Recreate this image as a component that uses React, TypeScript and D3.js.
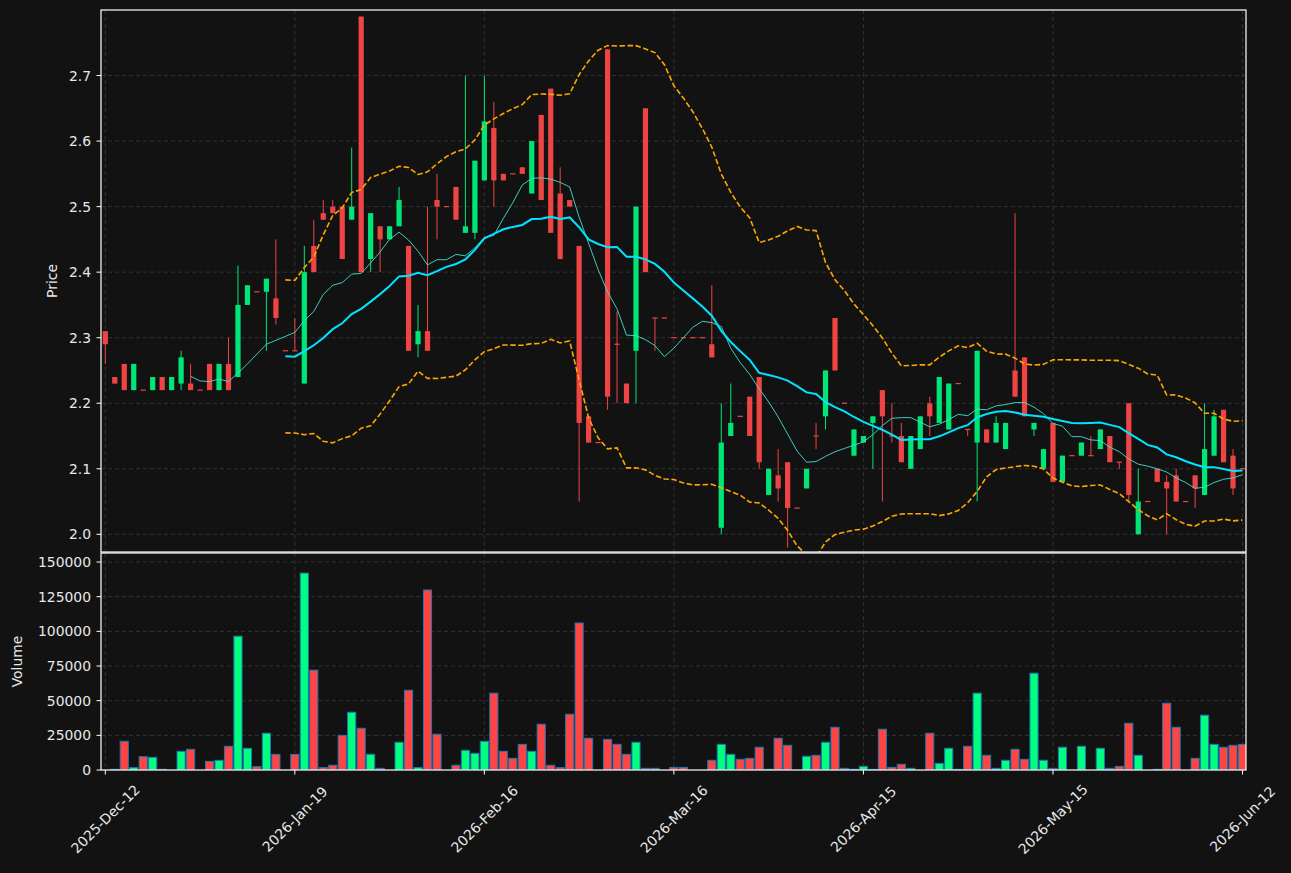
import React, { useEffect } from 'react';
import * as d3 from 'd3';

// canvas
const W = 1291;
const H = 873;

// x ticks (bar index -> label)
const tickIdx = [0, 20, 40, 60, 80, 100, 120];
const tickLabels = ['2025-Dec-12', '2026-Jan-19', '2026-Feb-16', '2026-Mar-16', '2026-Apr-15', '2026-May-15', '2026-Jun-12'];
const priceTicks = [2.0, 2.1, 2.2, 2.3, 2.4, 2.5, 2.6, 2.7];
const volTicks = [0, 25000, 50000, 75000, 100000, 125000, 150000];

// OHLC, one entry per trading bar
const opens = [
  2.31, 2.24, 2.26, 2.22, 2.22, 2.22, 2.24, 2.22, 2.23, 2.23,
  2.22, 2.26, 2.22, 2.26, 2.24, 2.35, 2.37, 2.37, 2.36, 2.28,
  2.28, 2.23, 2.44, 2.49, 2.50, 2.50, 2.48, 2.79, 2.42, 2.47,
  2.45, 2.47, 2.44, 2.29, 2.31, 2.51, 2.50, 2.53, 2.46, 2.46,
  2.54, 2.62, 2.55, 2.55, 2.56, 2.52, 2.64, 2.68, 2.52, 2.51,
  2.44, 2.18, 2.14, 2.74, 2.29, 2.23, 2.28, 2.65, 2.33, 2.33,
  2.30, 2.30, 2.30, 2.30, 2.29, 2.01, 2.15, 2.18, 2.21, 2.24,
  2.06, 2.09, 2.11, 2.04, 2.07, 2.15, 2.18, 2.33, 2.20, 2.12,
  2.14, 2.17, 2.22, 2.15, 2.15, 2.10, 2.13, 2.20, 2.17, 2.16,
  2.23, 2.16, 2.14, 2.16, 2.14, 2.13, 2.25, 2.27, 2.16, 2.10,
  2.17, 2.08, 2.12, 2.12, 2.12, 2.13, 2.15, 2.11, 2.20, 2.00,
  2.05, 2.10, 2.08, 2.09, 2.05, 2.09, 2.06, 2.12, 2.19, 2.12,
  2.10,
];
const highs = [
  2.31, 2.24, 2.26, 2.26, 2.22, 2.24, 2.24, 2.24, 2.28, 2.26,
  2.22, 2.26, 2.26, 2.30, 2.41, 2.38, 2.37, 2.39, 2.45, 2.28,
  2.33, 2.44, 2.48, 2.51, 2.51, 2.50, 2.59, 2.79, 2.49, 2.47,
  2.47, 2.53, 2.44, 2.35, 2.50, 2.55, 2.50, 2.53, 2.70, 2.57,
  2.70, 2.66, 2.55, 2.55, 2.56, 2.60, 2.64, 2.68, 2.56, 2.51,
  2.44, 2.18, 2.14, 2.74, 2.34, 2.23, 2.50, 2.65, 2.33, 2.33,
  2.30, 2.30, 2.30, 2.30, 2.38, 2.20, 2.23, 2.18, 2.21, 2.24,
  2.10, 2.13, 2.11, 2.04, 2.10, 2.17, 2.25, 2.33, 2.20, 2.16,
  2.15, 2.18, 2.22, 2.20, 2.17, 2.15, 2.18, 2.21, 2.24, 2.23,
  2.23, 2.16, 2.28, 2.16, 2.18, 2.17, 2.49, 2.27, 2.17, 2.13,
  2.17, 2.12, 2.12, 2.14, 2.15, 2.16, 2.15, 2.11, 2.20, 2.10,
  2.05, 2.10, 2.09, 2.10, 2.05, 2.09, 2.20, 2.19, 2.19, 2.13,
  2.10,
];
const lows = [
  2.26, 2.23, 2.22, 2.22, 2.22, 2.22, 2.22, 2.22, 2.22, 2.22,
  2.22, 2.22, 2.22, 2.22, 2.24, 2.35, 2.37, 2.28, 2.32, 2.28,
  2.28, 2.23, 2.40, 2.48, 2.49, 2.42, 2.48, 2.40, 2.40, 2.40,
  2.45, 2.47, 2.28, 2.27, 2.28, 2.45, 2.50, 2.48, 2.46, 2.45,
  2.54, 2.50, 2.54, 2.55, 2.55, 2.52, 2.51, 2.46, 2.42, 2.50,
  2.05, 2.14, 2.14, 2.19, 2.20, 2.20, 2.20, 2.40, 2.28, 2.33,
  2.30, 2.30, 2.30, 2.30, 2.27, 2.00, 2.15, 2.18, 2.15, 2.10,
  2.06, 2.05, 1.98, 2.04, 2.07, 2.13, 2.16, 2.25, 2.20, 2.12,
  2.14, 2.10, 2.05, 2.14, 2.11, 2.10, 2.13, 2.15, 2.17, 2.16,
  2.23, 2.15, 2.05, 2.14, 2.14, 2.13, 2.21, 2.18, 2.15, 2.10,
  2.08, 2.08, 2.12, 2.12, 2.12, 2.13, 2.11, 2.10, 2.05, 2.00,
  2.05, 2.08, 2.00, 2.05, 2.05, 2.04, 2.06, 2.12, 2.11, 2.06,
  2.10,
];
const closes = [
  2.29, 2.23, 2.22, 2.26, 2.22, 2.24, 2.22, 2.24, 2.27, 2.22,
  2.22, 2.22, 2.26, 2.22, 2.35, 2.38, 2.37, 2.39, 2.33, 2.28,
  2.28, 2.40, 2.40, 2.48, 2.49, 2.42, 2.50, 2.40, 2.49, 2.45,
  2.47, 2.51, 2.28, 2.31, 2.28, 2.50, 2.50, 2.48, 2.47, 2.57,
  2.63, 2.54, 2.54, 2.55, 2.55, 2.60, 2.51, 2.46, 2.42, 2.50,
  2.17, 2.14, 2.14, 2.21, 2.29, 2.20, 2.50, 2.40, 2.33, 2.33,
  2.30, 2.30, 2.30, 2.30, 2.27, 2.14, 2.17, 2.18, 2.15, 2.11,
  2.10, 2.07, 2.04, 2.04, 2.10, 2.15, 2.25, 2.25, 2.20, 2.16,
  2.15, 2.18, 2.18, 2.15, 2.11, 2.15, 2.18, 2.18, 2.24, 2.23,
  2.23, 2.16, 2.28, 2.14, 2.17, 2.17, 2.21, 2.18, 2.17, 2.13,
  2.08, 2.12, 2.12, 2.14, 2.12, 2.16, 2.11, 2.11, 2.06, 2.05,
  2.05, 2.08, 2.07, 2.05, 2.05, 2.07, 2.13, 2.18, 2.11, 2.07,
  2.10,
];
const volumes = [
  0, 500, 20700, 1700, 9600, 9150, 500, 0, 13500, 14900,
  0, 6260, 6980, 17100, 96500, 15650, 2400, 26500, 11300, 0,
  11300, 142000, 72000, 1700, 3400, 25000, 41650, 30100, 11300, 1200,
  0, 20000, 57500, 1700, 129800, 25800, 0, 3400, 14200, 12000,
  20700, 55400, 13500, 8400, 18500, 13500, 33000, 3400, 1700, 40200,
  106000, 22900, 0, 22100, 18500, 11300, 20000, 1200, 1200, 0,
  1900, 1900, 0, 0, 7000, 18500, 11300, 7700, 8400, 16400,
  500, 22900, 17800, 0, 9900, 10600, 20000, 30800, 1200, 500,
  2600, 500, 29400, 1900, 4100, 1200, 0, 26500, 4800, 15650,
  500, 17100, 55400, 10600, 1200, 7000, 14900, 7700, 69800, 7000,
  1200, 16400, 0, 17100, 0, 15650, 1200, 2600, 33700, 10600,
  0, 500, 48150, 30800, 0, 8400, 39500, 18500, 16400, 17800,
  18500,
];

// layout
const L = 101;
const R = 1246;
const P_TOP = 10;
const P_BOT = 552;
const V_TOP = 553;
const V_BOT = 770;

const UP = '#00e676';
const DOWN = '#ef4444';
const V_UP = '#00ff7f';
const V_DOWN = '#ff4444';
const BG = '#121212';
const GRID = '#3a3a3a';
const FG = '#e8e8e8';
const FONT = '"DejaVu Sans", sans-serif';

const rolling = (arr: number[], n: number, f: (w: number[]) => number) =>
  arr.map((_, i) => (i < n - 1 ? null : f(arr.slice(i - n + 1, i + 1))));

const mean = (w: number[]) => d3.mean(w) as number;
const pstd = (w: number[]) => {
  const m = mean(w);
  return Math.sqrt(d3.mean(w.map(v => (v - m) ** 2)) as number);
};

const ma10 = rolling(closes, 10, mean);
const ma20 = rolling(closes, 20, mean);
const sd20 = rolling(closes, 20, pstd);
const bbUp = ma20.map((m, i) => (m == null ? null : m + 2 * (sd20[i] as number)));
const bbLo = ma20.map((m, i) => (m == null ? null : m - 2 * (sd20[i] as number)));

const App: React.FC = () => {
  useEffect(() => {
    document.body.style.margin = '0';
    document.body.style.background = BG;
  }, []);

  const x = d3.scaleLinear().domain([-0.454, 120.37]).range([L, R]);
  const y = d3.scaleLinear().domain([1.973, 2.8]).range([P_BOT, P_TOP]);
  const yv = d3.scaleLinear().domain([0, 156500]).range([V_BOT, V_TOP]);

  const step = x(1) - x(0);
  const bodyW = step * 0.55;
  const barW = step * 0.86;

  const line = d3
    .line<number | null>()
    .defined(d => d != null)
    .x((_, i) => x(i))
    .y(d => y(d as number));

  const idx = d3.range(closes.length);

  return (
    <div style={{ position: 'absolute', left: 0, top: 0 }}>
      <svg width={W} height={H} style={{ display: 'block', fontFamily: FONT }}>
        <defs>
          <clipPath id="pclip">
            <rect x={L} y={P_TOP} width={R - L} height={P_BOT - P_TOP} />
          </clipPath>
          <clipPath id="vclip">
            <rect x={L} y={V_TOP} width={R - L} height={V_BOT - V_TOP} />
          </clipPath>
        </defs>
        <rect width={W} height={H} fill={BG} />

        {/* grid */}
        <g stroke={GRID} strokeWidth={0.8} strokeDasharray="4,3">
          {priceTicks.map(t => (
            <line key={'pg' + t} x1={L} x2={R} y1={y(t)} y2={y(t)} />
          ))}
          {volTicks.slice(1).map(t => (
            <line key={'vg' + t} x1={L} x2={R} y1={yv(t)} y2={yv(t)} />
          ))}
          {tickIdx.map(t => (
            <g key={'xg' + t}>
              <line x1={x(t)} x2={x(t)} y1={P_TOP} y2={P_BOT} />
              <line x1={x(t)} x2={x(t)} y1={V_TOP} y2={V_BOT} />
            </g>
          ))}
        </g>

        {/* price panel */}
        <g clipPath="url(#pclip)">
          {idx.map(i => {
            const up = closes[i] > opens[i];
            const c = up ? UP : DOWN;
            const top = y(Math.max(opens[i], closes[i]));
            const bot = y(Math.min(opens[i], closes[i]));
            return (
              <g key={'c' + i}>
                <line x1={x(i)} x2={x(i)} y1={y(highs[i])} y2={y(lows[i])} stroke={c} strokeWidth={1} />
                <rect x={x(i) - bodyW / 2} y={top - (bot - top < 1 ? 0.6 : 0)} width={bodyW} height={Math.max(bot - top, 1.2)} fill={c} />
              </g>
            );
          })}
          <path d={line(bbUp) || ''} fill="none" stroke="#ffa500" strokeWidth={1.6} strokeDasharray="5.5,2.5" />
          <path d={line(bbLo) || ''} fill="none" stroke="#ffa500" strokeWidth={1.6} strokeDasharray="5.5,2.5" />
          <path d={line(ma10) || ''} fill="none" stroke="#40e0d0" strokeWidth={1} opacity={0.9} />
          <path d={line(ma20) || ''} fill="none" stroke="#00e5ff" strokeWidth={2} />
        </g>

        {/* volume panel */}
        <g clipPath="url(#vclip)">
          {idx.map(i =>
            volumes[i] > 0 ? (
              <rect
                key={'v' + i}
                x={x(i) - barW / 2}
                y={yv(volumes[i])}
                width={barW}
                height={V_BOT - yv(volumes[i])}
                fill={closes[i] > opens[i] ? V_UP : V_DOWN}
                stroke="#1f77b4"
                strokeWidth={1}
              />
            ) : null
          )}
        </g>

        {/* spines */}
        <g fill="none" stroke="#ffffff" strokeWidth={1.2}>
          <rect x={L} y={P_TOP} width={R - L} height={P_BOT - P_TOP} />
          <rect x={L} y={V_TOP} width={R - L} height={V_BOT - V_TOP} />
        </g>

        {/* y axes */}
        <g fontSize={13.9} fill={FG}>
          {priceTicks.map(t => (
            <g key={'pt' + t}>
              <line x1={L - 4.5} x2={L} y1={y(t)} y2={y(t)} stroke="#fff" strokeWidth={1} />
              <text x={L - 10} y={y(t)} textAnchor="end" dominantBaseline="central">
                {t.toFixed(1)}
              </text>
            </g>
          ))}
          {volTicks.map(t => (
            <g key={'vt' + t}>
              <line x1={L - 4.5} x2={L} y1={yv(t)} y2={yv(t)} stroke="#fff" strokeWidth={1} />
              <text x={L - 10} y={yv(t)} textAnchor="end" dominantBaseline="central">
                {t}
              </text>
            </g>
          ))}
          <text transform={`translate(52,${(P_TOP + P_BOT) / 2}) rotate(-90)`} textAnchor="middle" dominantBaseline="central">
            Price
          </text>
          <text transform={`translate(17,${(V_TOP + V_BOT) / 2}) rotate(-90)`} textAnchor="middle" dominantBaseline="central">
            Volume
          </text>
        </g>

        {/* x axis */}
        <g fontSize={13.9} fill={FG}>
          {tickIdx.map((t, k) => (
            <g key={'xt' + t}>
              <line x1={x(t)} x2={x(t)} y1={V_BOT} y2={V_BOT + 4.5} stroke="#fff" strokeWidth={1} />
              <text
                transform={`translate(${x(t)},${819}) rotate(-45)`}
                textAnchor="middle"
                dominantBaseline="central"
              >
                {tickLabels[k]}
              </text>
            </g>
          ))}
        </g>
      </svg>
    </div>
  );
};

export default App;
